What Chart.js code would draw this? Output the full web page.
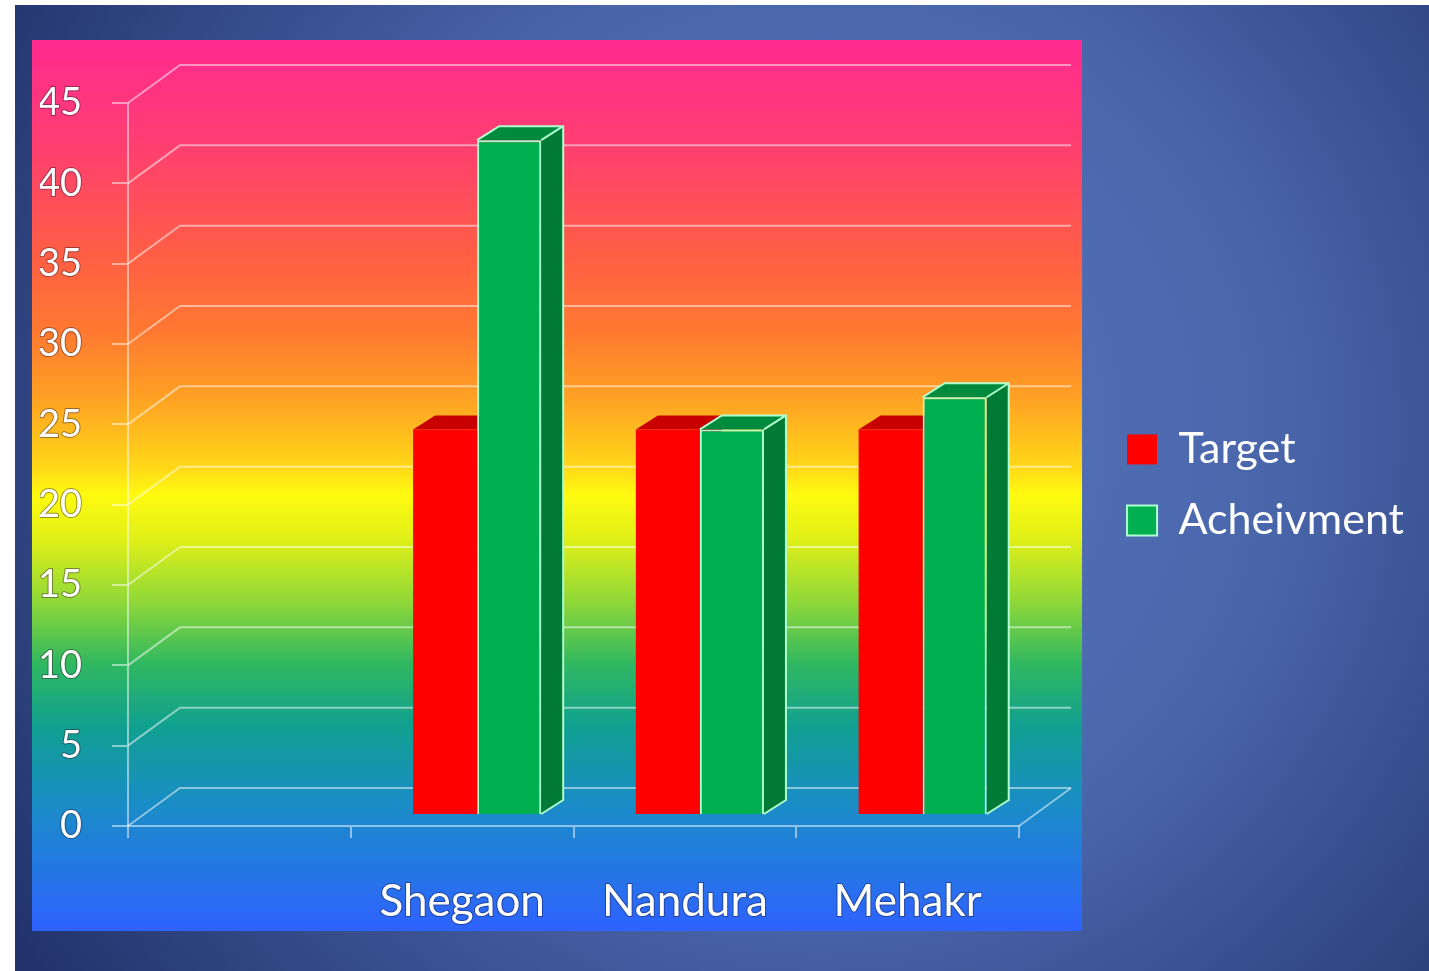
<!DOCTYPE html>
<html>
<head>
<meta charset="utf-8">
<script src="https://cdn.jsdelivr.net/npm/chart.js@4.4.1/dist/chart.umd.min.js"></script>
<style>
  html, body { margin: 0; padding: 0; background: #fff; }
  #wrap { position: absolute; left: 0; top: 0; width: 1429px; height: 971px; }
</style>
</head>
<body>
<div id="wrap"><canvas id="chart"></canvas></div>
<script>
// data (first slot is an empty category)
const categories = ['', 'Shegaon', 'Nandura', 'Mehakr'];
const target = [null, 24, 24, 24];
const achievement = [null, 42, 24, 26];
const yTicks = [0, 5, 10, 15, 20, 25, 30, 35, 40, 45];

const FONT = 'Lato, "Open Sans", sans-serif';
const GRID = 'rgba(255,255,255,0.5)';
const WALL = { dx: 52, dy: -38 };   // depth of the back wall
const BAR = { dx: 15, dy: -11 };    // bars sit in the middle of the floor
const DEPTH = { dx: 22, dy: -14 };  // depth of each bar

// slide background, rainbow plot panel and back wall grid
const backdrop = {
    id: 'backdrop',
    beforeDraw(chart) {
        const { ctx, chartArea: a, scales } = chart;
        ctx.save();
        ctx.fillStyle = '#fff';
        ctx.fillRect(0, 0, chart.width, chart.height);

        const bg = ctx.createRadialGradient(820, 430, 50, 820, 430, 950);
        bg.addColorStop(0, '#5675bf');
        bg.addColorStop(0.45, '#4a66ab');
        bg.addColorStop(1, '#22336c');
        ctx.fillStyle = bg;
        ctx.fillRect(15, 5, chart.width - 15, chart.height - 5);

        const px0 = a.left - 96, px1 = a.right + 63, py0 = a.top - 63, py1 = a.bottom + 105;
        const g = ctx.createLinearGradient(0, py0, 0, py1);
        g.addColorStop(0.00, '#ff2a90');
        g.addColorStop(0.12, '#ff3f70');
        g.addColorStop(0.24, '#ff5e45');
        g.addColorStop(0.33, '#ff7a30');
        g.addColorStop(0.40, '#ffa024');
        g.addColorStop(0.48, '#ffd818');
        g.addColorStop(0.51, '#fffa10');
        g.addColorStop(0.56, '#e0f018');
        g.addColorStop(0.63, '#90d838');
        g.addColorStop(0.70, '#30b860');
        g.addColorStop(0.77, '#10a090');
        g.addColorStop(0.86, '#1a8cc8');
        g.addColorStop(1.00, '#2f62ff');
        ctx.fillStyle = g;
        ctx.fillRect(px0, py0, px1 - px0, py1 - py0);

        // back wall and left wall grid lines
        const y = scales.y;
        ctx.strokeStyle = GRID;
        ctx.lineWidth = 2;
        yTicks.forEach(v => {
            const py = y.getPixelForValue(v);
            ctx.beginPath();
            ctx.moveTo(a.left, py);
            ctx.lineTo(a.left + WALL.dx, py + WALL.dy);
            ctx.lineTo(a.right + WALL.dx, py + WALL.dy);
            ctx.stroke();
        });
        // right edge of the floor
        ctx.beginPath();
        ctx.moveTo(a.right, a.bottom);
        ctx.lineTo(a.right + WALL.dx, a.bottom + WALL.dy);
        ctx.stroke();
        ctx.restore();
    }
};

// side and top faces of the columns; front faces come from Chart.js itself
const columns3d = {
    id: 'columns3d',
    beforeDatasetsDraw(chart) {
        const ctx = chart.ctx;
        ctx.save();
        ctx.translate(BAR.dx, BAR.dy);
        chart.data.datasets.forEach((ds, i) => {
            const meta = chart.getDatasetMeta(i);
            meta.data.forEach((bar, j) => {
                if (ds.data[j] == null) return;
                const { x, y, base, width } = bar.getProps(['x', 'y', 'base', 'width'], true);
                const x0 = x - width / 2, x1 = x + width / 2;
                const { dx, dy } = DEPTH;
                ctx.fillStyle = ds.sideColor;
                ctx.beginPath();
                ctx.moveTo(x1, y);
                ctx.lineTo(x1 + dx, y + dy);
                ctx.lineTo(x1 + dx, base + dy);
                ctx.lineTo(x1, base);
                ctx.closePath();
                ctx.fill();
                ctx.fillStyle = ds.topColor;
                ctx.beginPath();
                ctx.moveTo(x0, y);
                ctx.lineTo(x0 + dx, y + dy);
                ctx.lineTo(x1 + dx, y + dy);
                ctx.lineTo(x1, y);
                ctx.closePath();
                ctx.fill();
                if (ds.borderWidth) {
                    ctx.strokeStyle = ds.borderColor;
                    ctx.lineWidth = ds.borderWidth;
                    ctx.beginPath();
                    ctx.moveTo(x0, y);
                    ctx.lineTo(x0 + dx, y + dy);
                    ctx.lineTo(x1 + dx, y + dy);
                    ctx.lineTo(x1 + dx, base + dy);
                    ctx.lineTo(x1, base);
                    ctx.moveTo(x1, y);
                    ctx.lineTo(x1 + dx, y + dy);
                    ctx.stroke();
                }
            });
        });
    },
    afterDatasetsDraw(chart) {
        chart.ctx.restore();
    }
};

new Chart(document.getElementById('chart'), {
    type: 'bar',
    data: {
        labels: categories,
        datasets: [
            {
                label: 'Target',
                data: target,
                backgroundColor: '#ff0000',
                borderColor: '#ff0000',
                borderWidth: 0,
                topColor: '#c80000',
                sideColor: '#b00000',
                categoryPercentage: 0.575,
                barPercentage: 1.0,
            },
            {
                label: 'Acheivment',
                data: achievement,
                backgroundColor: '#00b050',
                borderColor: '#b0ffd0',
                borderWidth: 2,
                topColor: '#008a3e',
                sideColor: '#007a34',
                categoryPercentage: 0.575,
                barPercentage: 1.0,
            },
        ],
    },
    options: {
        responsive: true,
        maintainAspectRatio: false,
        animation: false,
        layout: { padding: { top: 103, left: 40, bottom: 43, right: 15 } },
        plugins: {
            legend: {
                position: 'right',
                fullSize: false,
                maxWidth: 420,
                title: { display: true, text: ' ', font: { size: 34, lineHeight: 1.2 }, padding: 0 },
                labels: {
                    color: '#ffffff',
                    font: { family: FONT, size: 43 },
                    boxWidth: 30,
                    boxHeight: 30,
                    padding: 28,
                },
            },
            tooltip: { enabled: false },
        },
        scales: {
            x: {
                grid: { drawOnChartArea: false, color: GRID, lineWidth: 2, tickLength: 12 },
                border: { display: true, color: GRID, width: 2 },
                ticks: {
                    color: '#ffffff',
                    font: { family: FONT, size: 44 },
                    padding: 37,
                    maxRotation: 0,
                    textStrokeColor: 'rgba(20,20,60,0.45)',
                    textStrokeWidth: 2,
                },
                afterFit: s => { s.height = 102; },
            },
            y: {
                min: 0,
                max: 45,
                grid: { drawOnChartArea: false, color: GRID, lineWidth: 2, tickLength: 16 },
                border: { display: true, color: GRID, width: 2 },
                ticks: {
                    stepSize: 5,
                    color: '#ffffff',
                    font: { family: FONT, size: 38 },
                    padding: 30,
                    textStrokeColor: 'rgba(40,20,40,0.45)',
                    textStrokeWidth: 2,
                },
                afterFit: s => { s.width = 88; },
            },
            gap: {
                type: 'linear',
                position: 'right',
                display: true,
                grid: { display: false },
                border: { display: false },
                ticks: { display: false },
                afterFit: s => { s.width = 80; },
            },
        },
    },
    plugins: [backdrop, columns3d],
});
</script>
</body>
</html>
